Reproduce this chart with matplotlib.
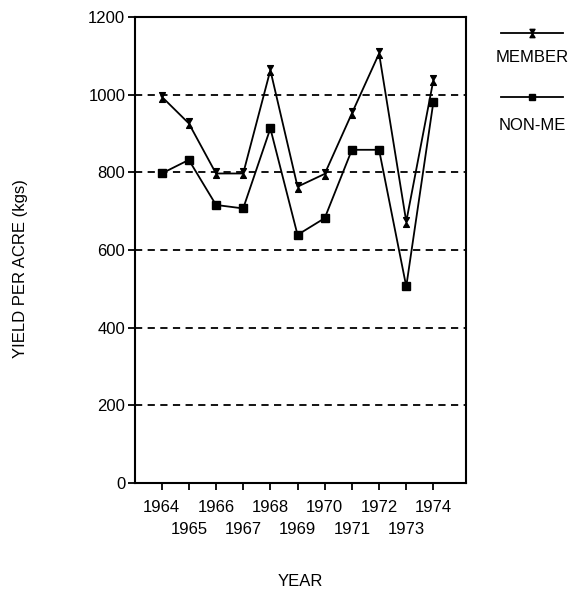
import matplotlib
matplotlib.use("Agg")
import matplotlib.pyplot as plt
from matplotlib.lines import Line2D
from matplotlib.path import Path

plt.rcParams["font.family"] = ["Liberation Sans", "DejaVu Sans"]

years = [1964, 1965, 1966, 1967, 1968, 1969, 1970, 1971, 1972, 1973, 1974]
member = [995, 926, 797, 797, 1063, 763, 796, 952, 1106, 673, 1038]
non_member = [797, 832, 716, 707, 913, 639, 682, 858, 858, 506, 982]
y_ticks = [0, 200, 400, 600, 800, 1000, 1200]
grid_levels = [200, 400, 600, 800, 1000]

# vertical hourglass marker for the member series
hourglass = Path([(-0.6, 1), (0.6, 1), (-0.6, -1), (0.6, -1), (-0.6, 1)],
                 [Path.MOVETO, Path.LINETO, Path.LINETO, Path.LINETO, Path.CLOSEPOLY])
member_style = dict(color="black", lw=1.3, marker=hourglass, ms=7, mfc="black", mec="black")
nonmem_style = dict(color="black", lw=1.3, marker="s", ms=6, mfc="black", mec="black")

fig = plt.figure(figsize=(5.77, 5.96), dpi=100)
ax = fig.add_axes([0.234, 0.1896, 0.5737, 0.7819])

for lvl in grid_levels:
    ax.axhline(lvl, color="black", lw=1.3, ls=(0, (4, 3)), zorder=1)

ax.plot(years, member, zorder=3, **member_style)
ax.plot(years, non_member, zorder=3, **nonmem_style)

ax.set_xlim(1963.02, 1975.2)
ax.set_ylim(0, 1200)
ax.set_yticks(y_ticks)

# even years on the first row, odd years staggered below
even_years = years[0::2]
odd_years = years[1::2]
ax.set_xticks(even_years)
ax.set_xticklabels([str(y) for y in even_years])
ax.set_xticks(odd_years, minor=True)
ax.set_xticklabels([str(y) for y in odd_years], minor=True)

ax.tick_params(axis="both", which="both", direction="out", length=5, width=1.3, labelsize=12)
ax.tick_params(axis="y", pad=2)
ax.tick_params(axis="x", which="major", pad=7)
ax.tick_params(axis="x", which="minor", pad=23)
for s in ax.spines.values():
    s.set_linewidth(1.5)

fig.text(0.035, 0.55, "YIELD PER ACRE (kgs)", rotation=90, ha="center", va="center", fontsize=12)
fig.text(0.52, 0.025, "YEAR", ha="center", va="center", fontsize=12)

# legend drawn beside the axes
for y_line, y_text, style, label in [(0.944, 0.903, member_style, "MEMBER"),
                                     (0.837, 0.79, nonmem_style, "NON-ME")]:
    fig.add_artist(Line2D([0.868, 0.922, 0.975], [y_line] * 3, transform=fig.transFigure,
                          markevery=[1], **dict(style, ms=style["ms"] - 1)))
    fig.text(0.922, y_text, label, ha="center", va="center", fontsize=12)

fig.savefig("out.png", dpi=100)
